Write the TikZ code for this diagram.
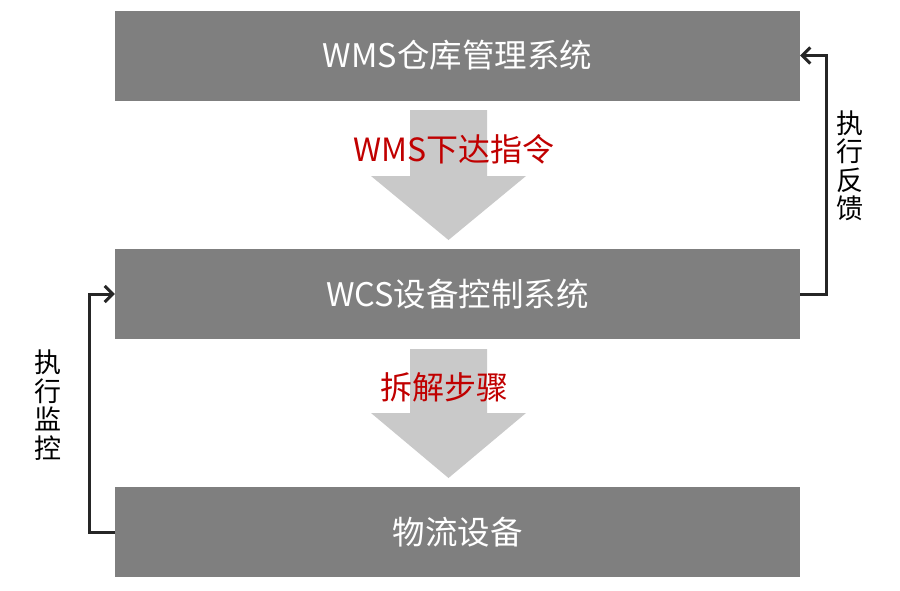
\documentclass[tikz,border=0pt]{standalone}
\usepackage{fontspec}
\setmainfont{Noto Sans CJK SC}
\usetikzlibrary{arrows.meta}
\definecolor{boxgray}{HTML}{7F7F7F}
\definecolor{arrowgray}{HTML}{C9C9C9}
\definecolor{darkred}{HTML}{C00000}
\definecolor{linegray}{HTML}{262626}
\tikzset{
  sysbox/.style={fill=boxgray, draw=none, minimum width=685pt, minimum height=90pt, inner sep=0pt, text=white, font=\fontsize{32.5}{36}\selectfont},
  bigarrow/.style={fill=arrowgray, draw=none},
  steplabel/.style={text=darkred, font=\fontsize{32}{36}\selectfont, inner sep=0pt},
  sidelabel/.style={text=black, font=\fontsize{27}{28.5}\selectfont, align=center, inner sep=0pt},
  feedback/.style={draw=linegray, line width=3pt, -{Straight Barb[length=8pt,width=16pt,line width=3pt]}}
}
\begin{document}
\begin{tikzpicture}[x=1pt,y=-1pt]
\useasboundingbox (0,0) rectangle (900,590);
% big arrows
\fill[bigarrow] (410,110) -- (487,110) -- (487,176) -- (526,176) -- (448.5,240) -- (371,176) -- (410,176) -- cycle;
\fill[bigarrow] (410,349) -- (487,349) -- (487,413) -- (526,413) -- (448.5,478) -- (371,413) -- (410,413) -- cycle;
% boxes
\node[sysbox] (wms) at (457.5,55.5) {WMS仓库管理系统};
\node[sysbox] (wcs) at (457.5,294) {WCS设备控制系统};
\node[sysbox] (dev) at (457.5,532) {物流设备};
% step labels
\node[steplabel] (l1) at (454,149) {WMS下达指令};
\node[steplabel] (l2) at (444.5,387) {拆解步骤};
% side connectors
\draw[feedback] (wcs.east) -- ++(26,0) |- (wms.east);
\draw[feedback] (dev.west) -- ++(-25,0) |- (wcs.west);
\node[sidelabel] (fb) at (850,166) {执\\行\\反\\馈};
\node[sidelabel] (mon) at (48,405) {执\\行\\监\\控};
\end{tikzpicture}
\end{document}
